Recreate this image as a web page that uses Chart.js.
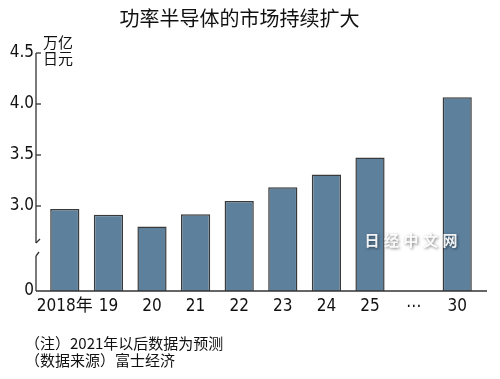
<!DOCTYPE html>
<html>
<head>
<meta charset="utf-8">
<script src="https://cdn.jsdelivr.net/npm/chart.js@4"></script>
<style>
  html, body { margin: 0; padding: 0; background: #fff; }
  #wrap { width: 500px; height: 379px; }
</style>
</head>
<body>
<div id="wrap"><canvas id="powerChart" width="500" height="379"></canvas></div>
<script>
// 功率半导体市场规模（万亿日元）
var years = ['2018年', '19', '20', '21', '22', '23', '24', '25', '⋯', '30'];
var marketSize = [2.97, 2.915, 2.80, 2.92, 3.05, 3.185, 3.31, 3.475, null, 4.065];
var yTickLabels = [0, 3.0, 3.5, 4.0, 4.5];

// 纵轴在 0 和 3.0 之间断开：3.0 以上的数值整体下移
var BREAK_SHIFT = 2.1667;
function toAxis(v) { return v === 0 ? 0 : v - BREAK_SHIFT; }

var FONT_NUM = '"DejaVu Sans Condensed", "Noto Sans CJK SC", sans-serif';
var FONT_CJK = '"Noto Sans CJK SC", sans-serif';

var extras = {
    id: 'extras',
    afterDraw: function(chart) {
        var ctx = chart.ctx;
        var area = chart.chartArea;
        var y = chart.scales.y;
        var ax = area.left - 7;
        var yBreakTop = 243, yBreakBottom = 256;

        ctx.save();
        ctx.strokeStyle = '#333';
        ctx.lineWidth = 1.3;

        // y 轴（带断开）
        ctx.beginPath();
        ctx.moveTo(ax, area.top);
        ctx.lineTo(ax, yBreakTop);
        ctx.moveTo(ax, yBreakBottom);
        ctx.lineTo(ax, area.bottom);
        ctx.stroke();
        // 断开符号
        ctx.beginPath();
        ctx.moveTo(ax, yBreakTop);
        ctx.lineTo(ax + 4, yBreakTop - 4);
        ctx.moveTo(ax, yBreakBottom);
        ctx.lineTo(ax + 3, yBreakBottom - 4);
        ctx.stroke();

        // 向内刻度
        yTickLabels.forEach(function(t) {
            if (t === 0) return;
            var py = y.getPixelForValue(toAxis(t));
            ctx.beginPath();
            ctx.moveTo(ax, py);
            ctx.lineTo(ax + 5, py);
            ctx.stroke();
        });

        // x 轴
        ctx.beginPath();
        ctx.moveTo(ax, area.bottom);
        ctx.lineTo(area.right + 8, area.bottom);
        ctx.stroke();

        // 单位
        ctx.fillStyle = '#111';
        ctx.font = '15px ' + FONT_CJK;
        ctx.textAlign = 'left';
        ctx.textBaseline = 'middle';
        ctx.fillText('万亿', ax + 7, 42);
        ctx.fillText('日元', ax + 7, 58);

        // 注释
        ctx.fillText('（注）2021年以后数据为预测', 25, 343);
        ctx.fillText('（数据来源）富士经济', 25, 360);

        // 水印
        ctx.font = 'bold 15px ' + FONT_CJK;
        ctx.textAlign = 'center';
        ctx.shadowColor = 'rgba(0,0,0,0.55)';
        ctx.shadowBlur = 3;
        ctx.shadowOffsetX = 1;
        ctx.shadowOffsetY = 1;
        ctx.fillStyle = 'rgba(255,255,255,0.92)';
        var wm = '日经中文网'.split('');
        wm.forEach(function(ch, i) {
            ctx.fillText(ch, 372 + i * 19.5, 240);
        });
        ctx.restore();
    }
};

var ctx = document.getElementById('powerChart').getContext('2d');
var chart = new Chart(ctx, {
    type: 'bar',
    data: {
        labels: years,
        datasets: [{
            label: '功率半导体市场',
            data: marketSize.map(function(v) { return v === null ? null : toAxis(v); }),
            backgroundColor: '#5d809d',
            borderColor: '#3a3a3a',
            borderWidth: 1.5,
            borderSkipped: 'bottom',
            categoryPercentage: 1,
            barPercentage: 0.67
        }]
    },
    options: {
        responsive: false,
        animation: false,
        events: [],
        layout: { padding: { left: 0, right: 21, top: 0, bottom: 58 } },
        plugins: {
            legend: { display: false },
            tooltip: { enabled: false },
            title: {
                display: true,
                text: '功率半导体的市场持续扩大',
                color: '#111',
                font: { family: FONT_CJK, size: 20, weight: 'normal' },
                padding: { top: 6, bottom: 23 }
            }
        },
        scales: {
            x: {
                grid: { display: false, drawTicks: false },
                border: { display: false },
                ticks: {
                    color: '#111',
                    font: { family: FONT_NUM, size: 17 },
                    padding: 5,
                    maxRotation: 0,
                    autoSkip: false
                },
                afterFit: function(s) { s.height = 30; }
            },
            y: {
                min: 0,
                max: toAxis(4.5),
                grid: { display: false, drawTicks: false },
                border: { display: false },
                afterBuildTicks: function(s) {
                    s.ticks = yTickLabels.map(function(t) { return { value: toAxis(t), label: String(t) }; });
                },
                ticks: {
                    color: '#111',
                    font: { family: FONT_NUM, size: 17 },
                    padding: 9,
                    callback: function(v) {
                        if (Math.abs(v) < 1e-6) return '0';
                        return (v + BREAK_SHIFT).toFixed(1);
                    }
                },
                afterFit: function(s) { s.width = 43; }
            }
        }
    },
    plugins: [extras]
});
</script>
</body>
</html>
